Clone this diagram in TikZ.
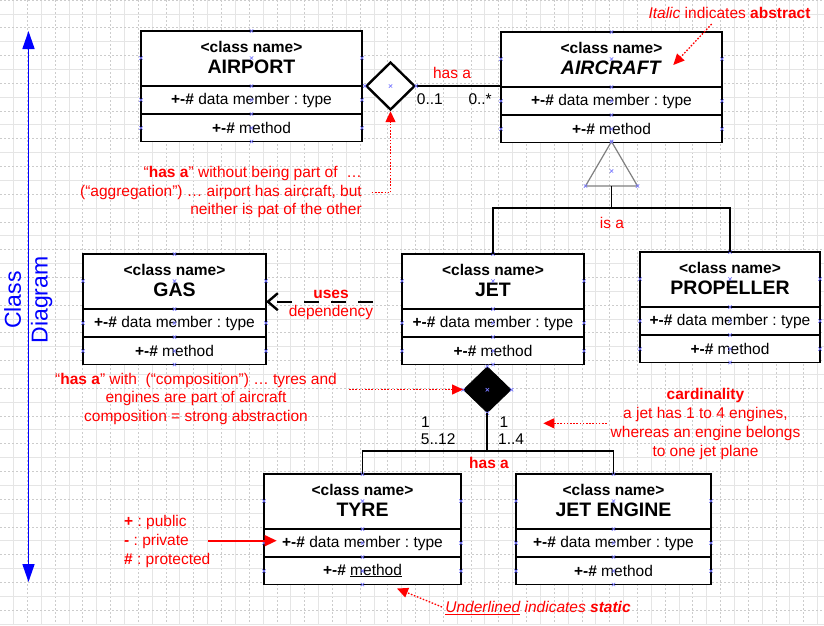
\documentclass[tikz,border=0pt]{standalone}
\usepackage{fontspec}
\setmainfont{Liberation Sans}
\usetikzlibrary{arrows.meta,shapes.geometric}
\frenchspacing

\tikzset{
  gridsolid/.style={draw=black!10, line width=0.9pt},
  griddash/.style={draw=black!20, line width=0.8pt, dash pattern=on 2pt off 2pt},
  classbox/.style={draw=black, line width=1.7pt, fill=white, inner sep=0pt, outer sep=0pt, anchor=north west},
  rowline/.style={draw=black, line width=1.7pt},
  stereo/.style={font=\bfseries\fontsize{15.5}{18}\selectfont, inner sep=0pt},
  ctitle/.style={font=\bfseries\fontsize{19.5}{22}\selectfont, inner sep=0pt},
  member/.style={font=\fontsize{15.5}{18}\selectfont, inner sep=0pt},
  cpmark/.style={draw={rgb,255:red,120;green,120;blue,255}, line width=0.7pt},
  conn/.style={draw=black, line width=1.7pt},
  aggdiamond/.style={diamond, draw=black, line width=2.4pt, fill=white, inner sep=0pt},
  compdiamond/.style={diamond, draw=black, fill=black, line width=0.8pt, inner sep=0pt},
  tri/.style={draw=black!50, line width=1.2pt},
  dep/.style={draw=black, line width=2.4pt, dash pattern=on 15pt off 12pt,
              -{Straight Barb[length=10pt,width=17pt,line width=2.4pt]}},
  ann/.style={text=red, font=\fontsize{15.5}{18.7}\selectfont, inner sep=0pt},
  lbl/.style={text=black, font=\fontsize{15.5}{18}\selectfont, inner sep=0pt},
  reddot/.style={draw=red, line width=1.3pt, dash pattern=on 1.6pt off 1.6pt,
                 -{Triangle[length=11pt,width=10pt]}},
  redsolid/.style={draw=red, line width=1.6pt, -{Triangle[length=12pt,width=11pt]}},
  bluearrow/.style={draw=blue, line width=1.6pt,
                    {Triangle[length=18pt,width=12pt]}-{Triangle[length=18pt,width=12pt]}},
  sidetitle/.style={text=blue, font=\fontsize{23}{26}\selectfont, inner sep=0pt, rotate=90}
}

\newcommand{\cpx}[1]{\draw[cpmark] #1 ++(-1.7,-1.7) -- ++(3.4,3.4) ++(-3.4,0) -- ++(3.4,-3.4);}

\newcommand{\umlclass}[6]{%
  \pgfmathsetmacro\umlcx{(#2+#3)/2}%
  \node[classbox, minimum width={#3-#2}, minimum height=110.5] (#1) at (#2,#4) {};
  \draw[rowline] (#2,#4+55) -- (#3,#4+55);
  \draw[rowline] (#2,#4+83) -- (#3,#4+83);
  \node[stereo] (#1-st) at (\umlcx,#4+15.7) {<class name>};
  \node[ctitle] (#1-ti) at (\umlcx,#4+36) {#5};
  \node[member] (#1-dm) at (\umlcx,#4+69) {\textbf{+-\#} data member : type};
  \node[member] (#1-me) at (\umlcx,#4+96.5) {\textbf{+-\#} #6};
  \foreach \yy in {0,27,55,69,83,97,110.5} {\cpx{(\umlcx,#4+\yy)}}
  \foreach \yy in {27,69,97} {\cpx{(#2,#4+\yy)}\cpx{(#3,#4+\yy)}}
}

\begin{document}
\begin{tikzpicture}[x=1pt,y=-1pt]
\useasboundingbox (0,0) rectangle (824,625);
\fill[white] (0,0) rectangle (824,625);

% background grid
\foreach \k in {0,...,29} {
  \draw[gridsolid] ({13.5+27.728*\k},0) -- ({13.5+27.728*\k},625);
  \draw[griddash] ({-0.364+27.728*(\k+1)},0) -- ({-0.364+27.728*(\k+1)},625);
}
\foreach \k in {0,...,22} {
  \draw[gridsolid] (0,{14+27.728*\k}) -- (824,{14+27.728*\k});
  \draw[griddash] (0,{0.136+27.728*\k}) -- (824,{0.136+27.728*\k});
}

% side title
\coordinate (vtop) at (28.5,31);
\coordinate (vbot) at (28.5,582);
\draw[bluearrow] (vtop) -- (vbot);
\node[sidetitle] (sclass) at (12.7,300) {Class};
\node[sidetitle] (sdiag) at (41.7,300) {Diagram};

% classes
\umlclass{AIRPORT}{141}{362}{31}{AIRPORT}{method}
\umlclass{AIRCRAFT}{501}{722}{32}{\textit{AIRCRAFT}}{method}
\umlclass{GAS}{83}{266}{254}{GAS}{method}
\umlclass{JET}{402}{584}{254}{JET}{method}
\umlclass{PROPELLER}{640}{820}{252}{PROPELLER}{method}
\umlclass{TYRE}{264}{461}{474}{TYRE}{\underline{method}}
\umlclass{ENGINE}{516}{711}{474}{JET ENGINE}{method}

% aggregation
\node[aggdiamond, minimum width=49pt, minimum height=48pt] (agg) at (390.5,86) {};
\draw[conn] (agg.east) -- (agg.east -| AIRCRAFT.west);
\cpx{(agg.west)}\cpx{(agg.center)}\cpx{(agg.east)}
\node[ann] (hasa1) at (452,73) {has a};
\node[lbl, anchor=west] (m01) at (416.7,99) {0..1};
\node[lbl, anchor=west] (m0s) at (468.3,99) {0..*};

% inheritance
\coordinate (triapex) at (611.5,141.5);
\coordinate (tribase) at (611.5,186);
\draw[tri] (triapex) -- (637.5,186) -- (585.5,186) -- cycle;
\cpx{(triapex)}\cpx{(611.5,171)}\cpx{(637.5,186)}\cpx{(585.5,186)}
\coordinate (isa) at (611.5,208);
\draw[conn] (tribase) -- (isa);
\draw[conn] (JET.north) |- (isa) -| (PROPELLER.north);
\node[ann] (isalbl) at (612,223) {is a};

% dependency
\coordinate (depfrom) at (373,301.7);
\draw[dep] (depfrom) -- (GAS.east |- depfrom);
\node[ann, font=\bfseries\fontsize{15.5}{18}\selectfont] (uses) at (331,294.3) {uses};
\node[ann] (depl) at (331,312.3) {dependency};

% composition
\node[compdiamond, minimum width=47.7pt, minimum height=46pt] (comp) at (487.3,389.7) {};
\cpx{(comp.west)}\cpx{(comp.center)}\cpx{(comp.east)}\cpx{(comp.north)}\cpx{(comp.south)}
\coordinate (hb) at (487.3,451);
\draw[conn] (comp.south) -- (hb);
\draw[conn] (TYRE.north) |- (hb) -| (ENGINE.north);
\node[lbl, anchor=west] (c1a) at (421,421.7) {1};
\node[lbl, anchor=west] (c1b) at (420.7,439) {5..12};
\node[lbl, anchor=west] (c2a) at (499.5,421.7) {1};
\node[lbl, anchor=west] (c2b) at (498,439) {1..4};
\node[ann, font=\bfseries\fontsize{15.5}{18}\selectfont] (hasa2) at (489,463) {has a};

% annotations
\node[ann, align=right, anchor=east] (aggnote) at (362,192) {“\textbf{has a}” without being part of \ …\\(“aggregation”) … airport has aircraft, but\\neither is pat of the other};
\coordinate (aggfrom) at (371.7,192.7);
\draw[reddot] (aggfrom) -| (agg.south);

\node[ann] (itnote) at (729.5,13) {\textit{Italic} indicates \textbf{abstract}};
\coordinate (itfrom) at (711.7,24);
\coordinate (itto) at (673.3,65);
\draw[reddot] (itfrom) -- (itto);

\node[ann, align=center] (compnote) at (196,398.7) {“\textbf{has a}” with \ (“composition”) … tyres and\\engines are part of aircraft\\composition = strong abstraction};
\coordinate (compfrom) at (349,389.5);
\draw[reddot] (compfrom) -- (compfrom -| comp.west);

\node[ann, align=center] (cardnote) at (705.5,424) {\textbf{cardinality}\\a jet has 1 to 4 engines,\\whereas an engine belongs\\to one jet plane};
\coordinate (cardfrom) at (606.7,423.3);
\coordinate (cardto) at (543.3,423.3);
\draw[reddot] (cardfrom) -- (cardto);

\node[ann] (statnote) at (538,608.3) {\textit{\underline{Underlined} indicates \textbf{static}}};
\coordinate (statfrom) at (442,607);
\coordinate (statto) at (397,588.5);
\draw[reddot] (statfrom) -- (statto);

\node[ann, align=left, anchor=west] (legend) at (124,541.5) {\textbf{+} : public\\\textbf{-} : private\\\textbf{\#} : protected};
\coordinate (legfrom) at (207.7,540.7);
\coordinate (legto) at (276.7,540.7);
\draw[redsolid] (legfrom) -- (legto);
\end{tikzpicture}
\end{document}
